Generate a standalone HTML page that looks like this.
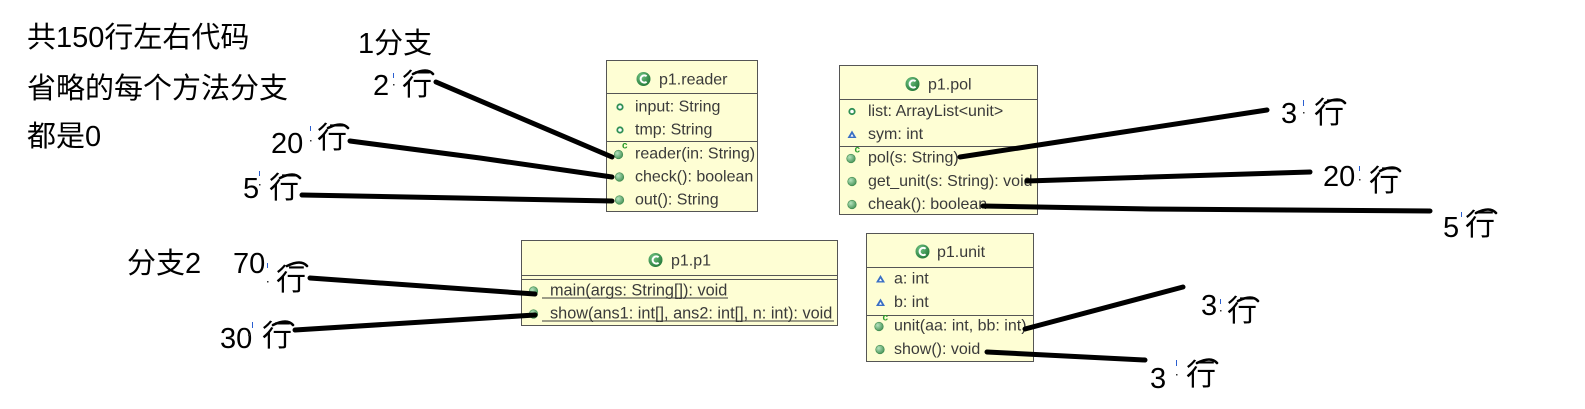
<!DOCTYPE html>
<html>
<head>
<meta charset="utf-8">
<style>
  html, body { margin: 0; padding: 0; background: #ffffff; }
  svg { display: block; }
  .uml { font-family: "Liberation Sans", sans-serif; font-size: 16px; fill: #3a3a3a; }
  .hw { font-family: "Liberation Sans", "Noto Sans CJK SC", sans-serif; fill: #000; }
</style>
</head>
<body>
<svg width="1585" height="409" viewBox="0 0 1585 409" xmlns="http://www.w3.org/2000/svg">
  <defs>
    <radialGradient id="mg" cx="0.35" cy="0.35" r="0.75">
      <stop offset="0" stop-color="#b5e3bd"/>
      <stop offset="1" stop-color="#3f8d50"/>
    </radialGradient>
    <radialGradient id="cg" cx="0.35" cy="0.3" r="0.8">
      <stop offset="0" stop-color="#6fc281"/>
      <stop offset="1" stop-color="#1f7434"/>
    </radialGradient>
  </defs>
  <rect x="0" y="0" width="1585" height="409" fill="#ffffff"/>

  <!-- ============ p1.reader ============ -->
  <g class="uml">
    <rect x="606.5" y="60.5" width="151" height="151" fill="#fefed4" stroke="#555" stroke-width="1"/>
    <line x1="606.5" y1="93.5" x2="757.5" y2="93.5" stroke="#555"/>
    <line x1="606.5" y1="141.5" x2="757.5" y2="141.5" stroke="#555"/>
    <circle cx="643.5" cy="79" r="7" fill="url(#cg)"/>
    <path d="M646.6,76.3 A3.6,3.6 0 1 0 646.6,81.7" fill="none" stroke="#fff" stroke-width="2"/>
    <text x="659" y="84.5">p1.reader</text>

    <circle cx="620" cy="107" r="2.7" fill="#fff" stroke="#2f8f55" stroke-width="1.8"/>
    <text x="635" y="111.5">input: String</text>
    <circle cx="620" cy="130" r="2.7" fill="#fff" stroke="#2f8f55" stroke-width="1.8"/>
    <text x="635" y="134.5">tmp: String</text>

    <circle cx="618.5" cy="154.5" r="4.3" fill="url(#mg)" stroke="#3d8a4d" stroke-width="0.6"/>
    <text x="622" y="148.5" font-size="10" font-weight="bold" fill="#2a9a2a">c</text>
    <text x="635" y="158.5">reader(in: String)</text>
    <circle cx="619.5" cy="177" r="4.3" fill="url(#mg)" stroke="#3d8a4d" stroke-width="0.6"/>
    <text x="635" y="181.5">check(): boolean</text>
    <circle cx="619.5" cy="200" r="4.3" fill="url(#mg)" stroke="#3d8a4d" stroke-width="0.6"/>
    <text x="635" y="204.5">out(): String</text>
  </g>

  <!-- ============ p1.pol ============ -->
  <g class="uml">
    <rect x="839.5" y="65.5" width="198" height="149" fill="#fefed4" stroke="#555" stroke-width="1"/>
    <line x1="839.5" y1="99.5" x2="1037.5" y2="99.5" stroke="#555"/>
    <line x1="839.5" y1="146.5" x2="1037.5" y2="146.5" stroke="#555"/>
    <circle cx="912.5" cy="84" r="7" fill="url(#cg)"/>
    <path d="M915.6,81.3 A3.6,3.6 0 1 0 915.6,86.7" fill="none" stroke="#fff" stroke-width="2"/>
    <text x="928" y="89.5">p1.pol</text>

    <circle cx="852" cy="111.5" r="2.7" fill="#fff" stroke="#2f8f55" stroke-width="1.8"/>
    <text x="868" y="116">list: ArrayList&lt;unit&gt;</text>
    <polygon points="847.5,138 856.5,138 852,130.5" fill="#3a6fc4"/>
    <polygon points="850.5,136.6 853.5,136.6 852,134" fill="#fff"/>
    <text x="868" y="139">sym: int</text>

    <circle cx="851" cy="158.5" r="4.3" fill="url(#mg)" stroke="#3d8a4d" stroke-width="0.6"/>
    <text x="854.5" y="152.5" font-size="10" font-weight="bold" fill="#2a9a2a">c</text>
    <text x="868" y="162.5">pol(s: String)</text>
    <circle cx="852" cy="181.5" r="4.3" fill="url(#mg)" stroke="#3d8a4d" stroke-width="0.6"/>
    <text x="868" y="186">get_unit(s: String): void</text>
    <circle cx="852" cy="204.5" r="4.3" fill="url(#mg)" stroke="#3d8a4d" stroke-width="0.6"/>
    <text x="868" y="209">cheak(): boolean</text>
  </g>

  <!-- ============ p1.p1 ============ -->
  <g class="uml">
    <rect x="521.5" y="240.5" width="316" height="85" fill="#fefed4" stroke="#555" stroke-width="1"/>
    <line x1="521.5" y1="275.5" x2="837.5" y2="275.5" stroke="#555"/>
    <line x1="521.5" y1="279.5" x2="837.5" y2="279.5" stroke="#555"/>
    <circle cx="655.5" cy="260" r="7" fill="url(#cg)"/>
    <path d="M658.6,257.3 A3.6,3.6 0 1 0 658.6,262.7" fill="none" stroke="#fff" stroke-width="2"/>
    <text x="671" y="265.5">p1.p1</text>

    <circle cx="533.5" cy="291" r="4.3" fill="url(#mg)" stroke="#3d8a4d" stroke-width="0.6"/>
    <text x="550" y="295.5" font-size="16.3">main(args: String[]): void</text>
    <line x1="542" y1="298" x2="728" y2="298" stroke="#3a3a3a" stroke-width="1"/>
    <circle cx="533.5" cy="314" r="4.3" fill="url(#mg)" stroke="#3d8a4d" stroke-width="0.6"/>
    <text x="550" y="318.5" font-size="16.3">show(ans1: int[], ans2: int[], n: int): void</text>
    <line x1="542" y1="321" x2="834" y2="321" stroke="#3a3a3a" stroke-width="1"/>
  </g>

  <!-- ============ p1.unit ============ -->
  <g class="uml">
    <rect x="866.5" y="233.5" width="167" height="128" fill="#fefed4" stroke="#555" stroke-width="1"/>
    <line x1="866.5" y1="267.5" x2="1033.5" y2="267.5" stroke="#555"/>
    <line x1="866.5" y1="315.5" x2="1033.5" y2="315.5" stroke="#555"/>
    <circle cx="922.5" cy="251.5" r="7" fill="url(#cg)"/>
    <path d="M925.6,248.8 A3.6,3.6 0 1 0 925.6,254.2" fill="none" stroke="#fff" stroke-width="2"/>
    <text x="937" y="257">p1.unit</text>

    <polygon points="876,282.5 885,282.5 880.5,275" fill="#3a6fc4"/>
    <polygon points="879,281.1 882,281.1 880.5,278.5" fill="#fff"/>
    <text x="894" y="283.5">a: int</text>
    <polygon points="876,306 885,306 880.5,298.5" fill="#3a6fc4"/>
    <polygon points="879,304.6 882,304.6 880.5,302" fill="#fff"/>
    <text x="894" y="307">b: int</text>

    <circle cx="879" cy="326.5" r="4.3" fill="url(#mg)" stroke="#3d8a4d" stroke-width="0.6"/>
    <text x="882.5" y="320.5" font-size="10" font-weight="bold" fill="#2a9a2a">c</text>
    <text x="894" y="330.5">unit(aa: int, bb: int)</text>
    <circle cx="880" cy="349.5" r="4.3" fill="url(#mg)" stroke="#3d8a4d" stroke-width="0.6"/>
    <text x="894" y="354">show(): void</text>
  </g>

  <!-- ============ hand-drawn connector lines ============ -->
  <g fill="none" stroke="#000" stroke-width="5" stroke-linecap="round" stroke-linejoin="round">
    <path d="M436,82 L612,157"/>
    <path d="M350,141 L480,158 L612,177"/>
    <path d="M302,195 L460,198 L612,201"/>
    <path d="M310,278 L535,294"/>
    <path d="M295,330 L535,315"/>
    <path d="M960,157 L1267,110"/>
    <path d="M1027,181 L1310,172"/>
    <path d="M983,206 L1150,209 L1430,211"/>
    <path d="M1025,329 L1183,287"/>
    <path d="M987,352 L1145,360"/>
  </g>

  <!-- ============ handwritten-style labels ============ -->
  <g class="hw" font-size="29">
    <text x="27" y="47">共150行左右代码</text>
    <text x="27" y="98">省略的每个方法分支</text>
    <text x="27" y="146">都是0</text>

    <text x="358" y="53">1分支</text>
    <text x="127" y="273">分支2</text>

    <!-- digits -->
    <text x="373" y="95">2</text>
    <text x="271" y="153">20</text>
    <text x="243" y="198">5</text>
    <text x="233" y="273">70</text>
    <text x="220" y="348">30</text>
    <text x="1281" y="123">3</text>
    <text x="1323" y="186">20</text>
    <text x="1443" y="237">5</text>
    <text x="1201" y="315">3</text>
    <text x="1150" y="388">3</text>
  </g>
  <g class="hw" font-size="30">
    <text x="402" y="95">行</text>
    <text x="317" y="148">行</text>
    <text x="269" y="198">行</text>
    <text x="276" y="290">行</text>
    <text x="262" y="346">行</text>
    <text x="1314" y="123">行</text>
    <text x="1369" y="191">行</text>
    <text x="1465" y="235">行</text>
    <text x="1227" y="321">行</text>
    <text x="1186" y="385">行</text>
  </g>

  <!-- small pen arcs over 行 -->
  <g fill="none" stroke="#000" stroke-width="2.6" stroke-linecap="round">
    <path d="M413,74 Q427,67 433,74"/>
    <path d="M328,128 Q342,121 348,128"/>
    <path d="M280,178 Q294,171 300,178"/>
    <path d="M287,266 Q301,259 307,266"/>
    <path d="M273,325 Q287,318 293,325"/>
    <path d="M1325,103 Q1339,96 1345,103"/>
    <path d="M1380,171 Q1394,164 1400,171"/>
    <path d="M1476,213 Q1490,206 1496,213"/>
    <path d="M1238,301 Q1252,294 1258,301"/>
    <path d="M1197,363 Q1211,356 1217,363"/>
  </g>

  <!-- tiny blue cursor ticks -->
  <g stroke="#2b5fd0" stroke-width="1">
    <line x1="393.5" y1="73" x2="393.5" y2="78"/>
    <line x1="310.5" y1="126" x2="310.5" y2="131"/>
    <line x1="259.5" y1="171" x2="259.5" y2="176"/>
    <line x1="267.5" y1="263" x2="267.5" y2="268"/>
    <line x1="252.5" y1="322" x2="252.5" y2="328"/>
    <line x1="1303.5" y1="100" x2="1303.5" y2="106"/>
    <line x1="1359.5" y1="166" x2="1359.5" y2="171"/>
    <line x1="1461.5" y1="212" x2="1461.5" y2="217"/>
    <line x1="1220.5" y1="299" x2="1220.5" y2="304"/>
    <line x1="1176.5" y1="360" x2="1176.5" y2="366"/>
  </g>
  <g fill="#333">
    <rect x="393" y="84" width="1.5" height="1.5"/>
    <rect x="310" y="140" width="1.5" height="1.5"/>
    <rect x="259" y="184" width="1.5" height="1.5"/>
    <rect x="267" y="281" width="1.5" height="1.5"/>
    <rect x="248" y="334" width="2" height="2"/>
    <rect x="1303" y="112" width="1.5" height="1.5"/>
    <rect x="1359" y="179" width="1.5" height="1.5"/>
    <rect x="1220" y="310" width="1.5" height="1.5"/>
    <rect x="1176" y="374" width="1.5" height="1.5"/>
  </g>
</svg>
</body>
</html>
